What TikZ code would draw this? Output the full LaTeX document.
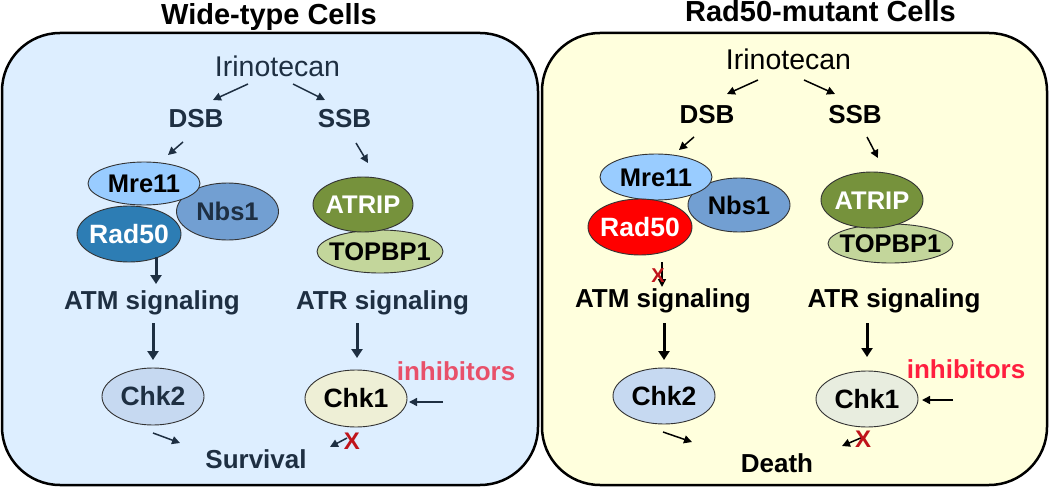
\documentclass[tikz,border=0pt]{standalone}
\usepackage{fontspec}
\setmainfont{Liberation Sans}
\usetikzlibrary{arrows.meta,shapes.geometric}
\definecolor{lbg}{HTML}{DDEEFF}
\definecolor{rbg}{HTML}{FFFFDD}
\definecolor{mrec}{HTML}{99CCFF}
\definecolor{nbsc}{HTML}{729FD2}
\definecolor{radc}{HTML}{2D7DB4}
\definecolor{radm}{HTML}{FF0000}
\definecolor{atripc}{HTML}{76923C}
\definecolor{topc}{HTML}{C3D69B}
\definecolor{chktwo}{HTML}{C6D9F1}
\definecolor{chkoneL}{HTML}{EEEFD6}
\definecolor{chkoneR}{HTML}{E8EDDF}
\definecolor{inhL}{HTML}{E8506A}
\definecolor{inhR}{HTML}{FF1F3F}
\definecolor{xred}{HTML}{C0141B}
\definecolor{edgec}{HTML}{333333}
\definecolor{ltext}{HTML}{1E2F42}
\newcommand{\elltext}[1]{\smash{\makebox[0pt]{\raisebox{-0.358em}{#1}}}}
\begin{document}
\begin{tikzpicture}[x=1pt,y=-1pt,
  txt/.style={font=\fontsize{26}{30}\selectfont\bfseries, inner sep=0pt, anchor=base},
  ttl/.style={font=\fontsize{29}{34}\selectfont\bfseries, inner sep=0pt, anchor=base, text=black},
  irn/.style={font=\fontsize{28.5}{34}\selectfont, inner sep=0pt, anchor=base},
  ell/.style={ellipse, draw=edgec, line width=0.9pt, inner sep=0pt, font=\fontsize{25.5}{30}\selectfont\bfseries},
  big/.style={font=\fontsize{26.5}{30}\selectfont\bfseries},
  thin/.style={line width=1.5pt, -{Triangle[length=8pt,width=8pt]}},
  thick/.style={line width=3pt, -{Triangle[length=9pt,width=11pt]}},
  xmark/.style={font=\fontsize{24}{28}\selectfont\bfseries, text=xred, inner sep=0pt},
  cellbox/.style={line width=2.5pt, draw=black, rounded corners=58pt}
]
\useasboundingbox (0,0) rectangle (1050,487);
% cell boxes
\path[cellbox, fill=lbg] (2,33) rectangle (538,485);
\path[cellbox, fill=rbg] (542,33) rectangle (1047,485);

% ---------------- left panel ----------------
\node[ttl] (Ltitle) at (269,25) {Wide-type Cells};
\node[irn, text=ltext] (Lirino) at (277.5,77) {Irinotecan};
\node[txt, text=ltext] (Ldsb) at (196,128) {DSB};
\node[txt, text=ltext] (Lssb) at (344.5,128) {SSB};
\node[ell, fill=nbsc, text=ltext, minimum width=102pt, minimum height=57pt] (Lnbs) at (227.5,211.5) {\elltext{Nbs1}};
\node[ell, fill=mrec, text=black, minimum width=112pt, minimum height=43pt] (Lmre) at (144,183.5) {\elltext{Mre11}};
\node[ell, big, fill=radc, text=white, minimum width=104pt, minimum height=56pt] (Lrad) at (129,234) {\elltext{Rad50}};
\node[ell, fill=topc, text=black, minimum width=126pt, minimum height=43pt] (Ltop) at (380,251.5) {\elltext{TOPBP1}};
\node[ell, fill=atripc, text=white, minimum width=100pt, minimum height=55pt] (Latrip) at (363,204.5) {\elltext{ATRIP}};
\node[txt, text=ltext] (Latm) at (152,309) {ATM signaling};
\node[txt, text=ltext] (Latr) at (382.5,309) {ATR signaling};
\node[ell, big, fill=chktwo, text=ltext, minimum width=102pt, minimum height=57pt] (Lchk2) at (153,396.5) {\elltext{Chk2}};
\node[ell, big, fill=chkoneL, text=black, minimum width=102pt, minimum height=57pt] (Lchk1) at (356,398.5) {\elltext{Chk1}};
\node[txt, text=inhL] (Linh) at (456,380) {inhibitors};
\node[txt, text=ltext] (Lsurv) at (256,468) {Survival};
\begin{scope}[draw=ltext, color=ltext]
\draw[thin] ([shift={(-29.5,7)}]Lirino.base) -- ([shift={(17,-28)}]Ldsb.base);
\draw[thin] ([shift={(15.5,7)}]Lirino.base) -- ([shift={(-19.5,-28)}]Lssb.base);
\draw[thin] ([shift={(-13,14)}]Ldsb.base) -- ([shift={(24,-28.5)}]Lmre.center);
\draw[thin] ([shift={(11.5,15)}]Lssb.base) -- ([shift={(5,-41.5)}]Latrip.center);
\draw[thick] ([shift={(27,23)}]Lrad.center) -- ([shift={(4,-25)}]Latm.base);
\draw[thick] ([shift={(1,14)}]Latm.base) -- ([shift={(0,-36.5)}]Lchk2.center);
\draw[thick] ([shift={(-25.5,14)}]Latr.base) -- ([shift={(1,-40.5)}]Lchk1.center);
\draw[thin] ([shift={(-13,22)}]Linh.base) -- ([shift={(53,3.5)}]Lchk1.center);
\draw[thin] ([shift={(0,36.5)}]Lchk2.center) -- ([shift={(-76,-25)}]Lsurv.base);
\draw[thin] ([shift={(-9,39.5)}]Lchk1.center) -- ([shift={(74,-21)}]Lsurv.base);
\end{scope}
\node[xmark] (Lx) at (352,441) {X};

% ---------------- right panel ----------------
\node[ttl] (Rtitle) at (820.5,21.5) {Rad50-mutant Cells};
\node[irn, text=black] (Ririno) at (788.5,70) {Irinotecan};
\node[txt] (Rdsb) at (707,123) {DSB};
\node[txt] (Rssb) at (855,123) {SSB};
\node[ell, fill=nbsc, minimum width=102pt, minimum height=54pt] (Rnbs) at (739,205) {\elltext{Nbs1}};
\node[ell, fill=mrec, minimum width=112pt, minimum height=46pt] (Rmre) at (656,177) {\elltext{Mre11}};
\node[ell, big, fill=radm, text=white, minimum width=104pt, minimum height=56pt] (Rrad) at (640,227) {\elltext{Rad50}};
\node[ell, fill=topc, minimum width=125pt, minimum height=39pt] (Rtop) at (890.5,243.5) {\elltext{TOPBP1}};
\node[ell, fill=atripc, text=white, minimum width=102pt, minimum height=56pt] (Ratrip) at (872,200) {\elltext{ATRIP}};
\node[txt] (Ratm) at (663,307) {ATM signaling};
\node[txt] (Ratr) at (894,307) {ATR signaling};
\node[ell, big, fill=chktwo, minimum width=102pt, minimum height=56pt] (Rchk2) at (664,396) {\elltext{Chk2}};
\node[ell, big, fill=chkoneR, minimum width=102pt, minimum height=56pt] (Rchk1) at (867,399) {\elltext{Chk1}};
\node[txt, text=inhR] (Rinh) at (966,378) {inhibitors};
\node[txt] (Rdeath) at (777,472) {Death};
\begin{scope}[draw=black, color=black]
\draw[thin] ([shift={(-30.5,10)}]Ririno.base) -- ([shift={(20,-29)}]Rdsb.base);
\draw[thin] ([shift={(15.5,10)}]Ririno.base) -- ([shift={(-20,-29)}]Rssb.base);
\draw[thin] ([shift={(-13,14)}]Rdsb.base) -- ([shift={(23,-27)}]Rmre.center);
\draw[thin] ([shift={(12,14)}]Rssb.base) -- ([shift={(6,-42)}]Ratrip.center);
\draw[thin] ([shift={(22,35)}]Rrad.center) -- ([shift={(-1,-20)}]Ratm.base);
\draw[thick] ([shift={(1,16)}]Ratm.base) -- ([shift={(0,-36)}]Rchk2.center);
\draw[thick] ([shift={(-27,16)}]Ratr.base) -- ([shift={(0,-42)}]Rchk1.center);
\draw[thin] ([shift={(-13,22)}]Rinh.base) -- ([shift={(55,1)}]Rchk1.center);
\draw[thin] ([shift={(-1,36)}]Rchk2.center) -- ([shift={(-85,-30)}]Rdeath.base);
\draw[thin] ([shift={(-4,38)}]Rchk1.center) -- ([shift={(65,-26)}]Rdeath.base);
\end{scope}
\node[xmark, font=\fontsize{20}{24}\selectfont\bfseries] (Rx1) at (658,276) {X};
\node[xmark] (Rx2) at (863,439) {X};
\end{tikzpicture}
\end{document}
